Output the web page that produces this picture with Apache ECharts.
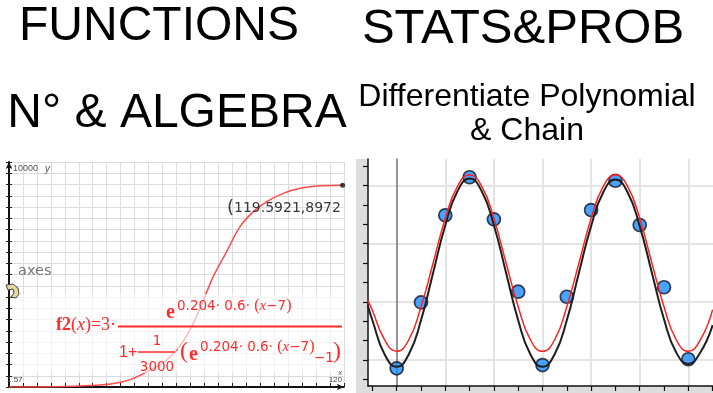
<!DOCTYPE html>
<html><head><meta charset="utf-8">
<script src="https://cdn.jsdelivr.net/npm/echarts@6/dist/echarts.min.js"></script>
<style>html,body{margin:0;padding:0;background:#fff}#c{width:713px;height:393px}</style>
</head><body><div id="c"></div>
<script>
// ---------- data ----------
// left panel: logistic curve f2(x)
const fnX = [0, 20, 32.6, 38.6, 44.6, 51.7, 56.5, 61.3, 65.5, 70.9, 73.2, 78.0, 82.8, 87.6, 92.4, 98.3, 104.3, 110.3, 119.5921];
const fnY = [3, 25, 89, 178, 385, 830, 1200, 1837, 2681, 4237, 4904, 6015, 7126, 7793, 8237, 8607, 8830, 8933, 8972];
const tracePoint = [119.5921, 8972];
const leftAxisLabels = ['10000', '1.57', '120'];
// right panel: observations and two fitted curves
const obsX = [0,1,2,3,4,5,6,7,8,9,10,11,12];
const obsY = [2.57, 5.97, 10.46, 12.42, 10.25, 6.52, 2.74, 6.26, 10.73, 12.24, 9.96, 6.75, 3.04];
const curveX = [-1.2,-1,-0.5,0,0.5,1,1.5,2,2.5,3,3.5,4,4.5,5,5.5,6,6.5,7,7.5,8,8.5,9,9.5,10,10.5,11,11.5,12,12.5,13];
const blackY = [5.85,5.05,3.3,2.65,3.3,5.05,7.5,9.95,11.7,12.35,11.7,9.95,7.5,5.05,3.3,2.65,3.3,5.05,7.5,9.9,11.65,12.3,11.65,9.9,7.5,5.1,3.4,2.8,3.4,4.8];
const redY = [6.1,5.55,4.05,3.45,4.05,5.75,8.0,10.3,11.95,12.55,11.95,10.3,8.0,5.75,4.05,3.45,4.05,5.75,8.0,10.3,11.95,12.55,11.95,10.3,8.0,5.75,4.05,3.45,4.05,5.6];
const rulerXTicks = [-1,0,1,2,3,4,5,6,7,8,9,10,11,12,13];
const gridXLines = [2,4,6,8,10,12];
const rulerYTicks = [2,3,4,5,6,7,8,9,10,11,12,13];
const gridYLines = [3,6,9,12];

const zip = (a, b) => a.map((v, i) => [v, b[i]]);
const SANS = "'Liberation Sans', Arial, sans-serif";
const DJ = "'DejaVu Sans', sans-serif";
const SERIF = "'Liberation Serif', 'Times New Roman', serif";
const RED = '#ff2b2b';

function txt(x, y, text, font, fill, align, extra) {
  return Object.assign({
    type: 'text', x: x, y: y, z: 60,
    style: { text: text, font: font, fill: fill, textAlign: align || 'left', align: align || 'left',
             textVerticalAlign: 'middle', verticalAlign: 'middle' }
  }, extra || {});
}
const supRich = {
  n: { font: '13.5px ' + DJ, fill: RED },
  p: { font: '16px ' + SERIF, fill: RED },
  i: { font: 'italic 15px ' + SERIF, fill: RED }
};
function supText(x, y) {
  return { type: 'text', x: x, y: y, z: 60,
    style: { text: '{n|0.204· 0.6· }{p|(}{i|x}{n|−7}{p|)}', rich: supRich,
             textAlign: 'left', align: 'left', textVerticalAlign: 'middle', verticalAlign: 'middle' } };
}

const chart = echarts.init(document.getElementById('c'), null, { renderer: 'canvas' });
chart.setOption({
  animation: false,
  backgroundColor: '#ffffff',
  grid: [
    { left: 9, top: 162, width: 334.8, height: 225 },
    { left: 368, top: 159, width: 345, height: 227 }
  ],
  xAxis: [
    { gridIndex: 0, type: 'value', min: 0, max: 120, interval: 5, position: 'bottom',
      axisLine: { show: true, lineStyle: { color: '#111', width: 2 }, symbol: ['none', 'arrow'], symbolSize: [5, 7] },
      axisTick: { show: true, inside: true, length: 4, lineStyle: { color: '#222', width: 1 } },
      axisLabel: { show: false },
      splitLine: { show: true, lineStyle: { color: '#dcdcdc', width: 1 } } },
    { gridIndex: 1, type: 'value', min: -1.181, max: 13.016, position: 'bottom',
      axisLine: { show: true, onZero: false, lineStyle: { color: '#111', width: 1.5 } },
      axisTick: { show: true, customValues: rulerXTicks, length: 5, lineStyle: { color: '#111', width: 1.2 } },
      axisLabel: { show: false }, splitLine: { show: false } },
    { gridIndex: 1, type: 'value', min: -1.181, max: 13.016, position: 'bottom',
      axisLine: { show: false, onZero: false },
      axisTick: { show: false, customValues: gridXLines },
      axisLabel: { show: false },
      splitLine: { show: true, lineStyle: { color: '#e4e4e4', width: 2 } } }
  ],
  yAxis: [
    { gridIndex: 0, type: 'value', min: 0, max: 10000, interval: 500, position: 'left',
      axisLine: { show: true, lineStyle: { color: '#111', width: 2 }, symbol: ['none', 'arrow'], symbolSize: [5, 7] },
      axisTick: { show: true, length: 3, lineStyle: { color: '#222', width: 1 } },
      axisLabel: { show: false },
      splitLine: { show: true, lineStyle: { color: '#dcdcdc', width: 1 } } },
    { gridIndex: 0, type: 'value', min: 0, max: 10000, interval: 500, position: 'left',
      axisLine: { show: false },
      axisTick: { show: true, inside: true, length: 3, lineStyle: { color: '#222', width: 1 } },
      axisLabel: { show: false }, splitLine: { show: false } },
    { gridIndex: 1, type: 'value', min: 1.66, max: 13.361, position: 'left',
      axisLine: { show: true, onZero: false, lineStyle: { color: '#111', width: 1.5 } },
      axisTick: { show: true, customValues: rulerYTicks, length: 5, lineStyle: { color: '#111', width: 1.2 } },
      axisLabel: { show: false }, splitLine: { show: false } },
    { gridIndex: 1, type: 'value', min: 1.66, max: 13.361, position: 'left',
      axisLine: { show: true, onZero: true, lineStyle: { color: '#7a7a7a', width: 1.6 } },
      axisTick: { show: false, customValues: gridYLines },
      axisLabel: { show: false },
      splitLine: { show: true, lineStyle: { color: '#e4e4e4', width: 2 } } }
  ],
  series: [
    { type: 'line', xAxisIndex: 0, yAxisIndex: 0, data: zip(fnX, fnY), smooth: 0.35,
      showSymbol: false, lineStyle: { color: '#ff4a4a', width: 1.5 }, z: 3 },
    { type: 'scatter', xAxisIndex: 0, yAxisIndex: 0, data: [tracePoint], symbolSize: 5,
      itemStyle: { color: '#111' }, z: 4 },
    { type: 'scatter', xAxisIndex: 1, yAxisIndex: 2, data: zip(obsX, obsY), symbolSize: 13,
      itemStyle: { color: '#1c8cff', borderColor: '#141420', borderWidth: 1.7 }, z: 3 },
    { type: 'line', xAxisIndex: 1, yAxisIndex: 2, data: zip(curveX, blackY), smooth: true,
      showSymbol: false, lineStyle: { color: '#1e1e1e', width: 2 }, z: 4 },
    { type: 'line', xAxisIndex: 1, yAxisIndex: 2, data: zip(curveX, redY), smooth: true,
      showSymbol: false, lineStyle: { color: '#ff2020', width: 1.5 }, z: 5 }
  ],
  graphic: { elements: [
    // ruler strips of the right panel
    { type: 'rect', z: -1, shape: { x: 356, y: 159, width: 12, height: 234 }, style: { fill: '#dddddd' } },
    { type: 'rect', z: -1, shape: { x: 356, y: 386, width: 357, height: 7 }, style: { fill: '#dddddd' } },
    // titles
    txt(159, 27, 'FUNCTIONS', '48px ' + SANS, '#000', 'center'),
    txt(523, 29, 'STATS&PROB', '49px ' + SANS, '#000', 'center'),
    txt(177, 114, 'N° & ALGEBRA', '48px ' + SANS, '#000', 'center'),
    txt(527, 97, 'Differentiate Polynomial', '32px ' + SANS, '#000', 'center'),
    txt(527, 131, '& Chain', '32px ' + SANS, '#000', 'center'),
    // left panel axis texts
    txt(13, 169, leftAxisLabels[0], '9px ' + SANS, '#555'),
    txt(45, 169, 'y', 'italic 10px ' + SANS, '#555'),
    txt(7, 380, leftAxisLabels[1], '8px ' + SANS, '#444'),
    txt(342, 380, leftAxisLabels[2], '8px ' + SANS, '#444', 'right'),
    txt(342, 373, 'x', 'italic 7px ' + SANS, '#444', 'right'),
    { type: 'text', x: 227, y: 208, z: 60, style: { text: '{p|(}{n|119.5921,8972}',
      rich: { p: { font: '18px ' + DJ, fill: '#3a3a3a' }, n: { font: '14px ' + DJ, fill: '#3a3a3a' } },
      textAlign: 'left', align: 'left', textVerticalAlign: 'middle', verticalAlign: 'middle' } },
    txt(18, 271, 'axes', '14.5px ' + DJ, '#777'),
    { type: 'polygon', z: 60, shape: { points: [[6,285],[13,284],[18,288],[19,294],[16,298],[11,297],[14,293],[13,289],[8,290]] },
      style: { fill: '#e4da9c', stroke: '#444', lineWidth: 1 } },
    // formula overlay
    { type: 'rect', z: 50, shape: { x: 13, y: 294, width: 331, height: 79 }, style: { fill: 'rgba(255,255,255,0.62)' } },
    { type: 'text', x: 56, y: 325, z: 60, style: { text: '{b|f2}{n|(}{i|x}{n|)=3·}',
      rich: { b: { font: 'bold 18px ' + SERIF, fill: RED }, n: { font: '18px ' + SERIF, fill: RED }, i: { font: 'italic 18px ' + SERIF, fill: RED } },
      textAlign: 'left', align: 'left', textVerticalAlign: 'middle', verticalAlign: 'middle' } },
    txt(166, 313, 'e', 'bold 20px ' + SERIF, RED),
    supText(177, 306),
    { type: 'line', z: 60, shape: { x1: 118, y1: 326.5, x2: 342, y2: 326.5 }, style: { stroke: RED, lineWidth: 2 } },
    txt(119, 353, '1+', '16px ' + SANS, RED),
    txt(157, 341, '1', '13.5px ' + DJ, RED, 'center'),
    { type: 'line', z: 60, shape: { x1: 138, y1: 352, x2: 175, y2: 352 }, style: { stroke: RED, lineWidth: 1.5 } },
    txt(157, 367, '3000', '13.5px ' + DJ, RED, 'center'),
    txt(175, 352, '·', '13px ' + DJ, RED),
    txt(180, 352, '(', '24px ' + SERIF, RED),
    txt(189, 355, 'e', 'bold 20px ' + SERIF, RED),
    supText(200, 347),
    txt(314, 358, '−1', '13.5px ' + DJ, RED),
    txt(333, 352, ')', '24px ' + SERIF, RED)
  ] }
});
</script>
</body></html>
